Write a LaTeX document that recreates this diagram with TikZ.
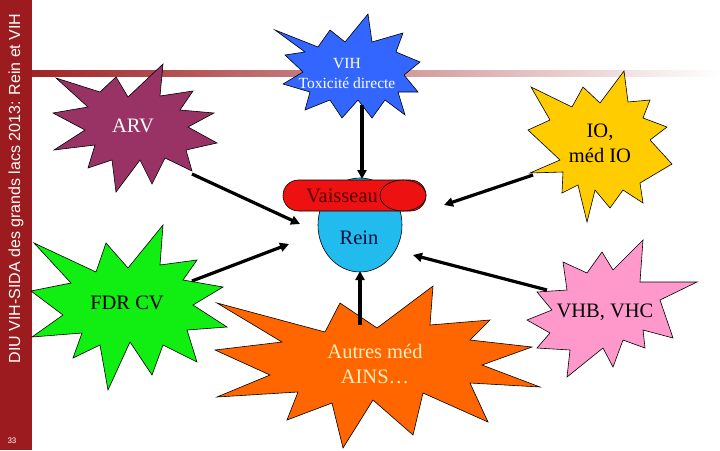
\documentclass[tikz,border=0pt]{standalone}
\usepackage{fontspec}
\setmainfont{Liberation Serif}
\newfontfamily\sidefont{Liberation Sans}
\usetikzlibrary{arrows.meta}
\definecolor{sidebarc}{HTML}{9B1B1E}
\definecolor{barL}{HTML}{9E2426}
\definecolor{barM}{HTML}{C9A5A5}
\definecolor{arvc}{HTML}{993366}
\definecolor{vihc}{HTML}{3366FF}
\definecolor{ioc}{HTML}{FFCC00}
\definecolor{fdrc}{HTML}{11EE11}
\definecolor{vhbc}{HTML}{FF99CC}
\definecolor{ainsc}{HTML}{FF6600}
\definecolor{reinc}{HTML}{22BBEE}
\definecolor{vaisc}{HTML}{EE1111}
\definecolor{vaistext}{HTML}{550000}
\definecolor{reintext}{HTML}{101040}
\definecolor{ainstext}{HTML}{FFEEBB}
\tikzset{
  burst/.style={draw=black, line width=0.6pt, line join=miter},
  conn/.style={draw=black, line width=3.2pt, -{Triangle[length=9pt,width=9pt]}},
  lbl/.style={align=center, inner sep=0pt, font=\fontsize{20.5}{25}\selectfont},
  smalllbl/.style={align=center, inner sep=0pt, font=\fontsize{15.5}{20}\selectfont},
}
\begin{document}
\begin{tikzpicture}[x=1pt,y=-1pt]
\useasboundingbox (0,0) rectangle (720,450);
\fill[white] (0,0) rectangle (720,450);
% top bar
\shade[left color=barL, middle color=barM, right color=white] (32,70) rectangle (720,76);
% sidebar
\fill[sidebarc] (0,0) rectangle (32,450);
\node[rotate=90, anchor=base, inner sep=0pt, text=white, font=\sidefont\fontsize{16}{18}\selectfont] (title) at (20,188.5) {DIU VIH-SIDA des grands lacs 2013: Rein et VIH};
\node[inner sep=0pt, text=white, font=\sidefont\fontsize{8}{9}\selectfont] (pagenum) at (12,441) {33};

% ARV star
\draw[burst, fill=arvc] (163,64) -- (160,96) -- (193,91) -- (180,110) -- (214,113) -- (188,127) -- (217,143) -- (186,150) -- (192,171) -- (165,158) -- (152,184) -- (140,160) -- (116,192) -- (112,160) -- (88,168) -- (95,145) -- (54,150) -- (85,130) -- (53,113) -- (88,107) -- (56,78) -- (100,92) -- (116,77) -- (128,97) -- cycle;
% VIH star
\draw[burst, fill=vihc] (275,30) -- (318,47) -- (330,30) -- (345,42) -- (368,14) -- (372,42) -- (403,33) -- (396,52) -- (420,62) -- (404,75) -- (418,92) -- (398,92) -- (405,115) -- (385,100) -- (372,118) -- (358,100) -- (342,118) -- (330,100) -- (305,110) -- (310,92) -- (283,84) -- (303,72) -- (285,55) -- (305,52) -- cycle;
% IO star
\draw[burst, fill=ioc] (624,71) -- (628,102) -- (650,100) -- (643,118) -- (667,127) -- (650,140) -- (672,164) -- (640,183) -- (643,203) -- (623,190) -- (610,208) -- (595,190) -- (587,222) -- (578,185) -- (562,193) -- (563,172) -- (530,173) -- (560,160) -- (528,130) -- (550,120) -- (531,87) -- (572,107) -- (583,87) -- (600,103) -- cycle;
% FDR star
\draw[burst, fill=fdrc] (163,225) -- (160,265) -- (197,260) -- (183,280) -- (223,287) -- (193,305) -- (227,327) -- (187,330) -- (197,362) -- (163,345) -- (152,375) -- (130,342) -- (108,390) -- (100,345) -- (73,358) -- (82,333) -- (32,337) -- (63,315) -- (31,291) -- (71,283) -- (34,243) -- (96,272) -- (106,243) -- (128,268) -- cycle;
% VHB star
\draw[burst, fill=vhbc] (643,240) -- (640,282) -- (697,282) -- (660,300) -- (673,338) -- (643,330) -- (645,348) -- (623,340) -- (613,367) -- (603,348) -- (567,377) -- (570,350) -- (537,348) -- (550,333) -- (527,320) -- (552,310) -- (537,292) -- (567,290) -- (563,262) -- (587,273) -- (602,252) -- (613,270) -- cycle;
% AINS star
\draw[burst, fill=ainsc] (217,303) -- (282,342) -- (215,350) -- (270,375) -- (217,397) -- (298,392) -- (287,420) -- (332,403) -- (343,448) -- (373,400) -- (413,435) -- (423,393) -- (488,422) -- (470,383) -- (540,387) -- (482,365) -- (532,347) -- (470,340) -- (490,320) -- (430,325) -- (433,286) -- (377,328) -- (340,303) -- (325,332) -- cycle;

% Rein and Vaisseau
\draw[fill=reinc, line width=0.6pt] (360,225) ellipse [x radius=42, y radius=47];
\draw[fill=vaisc, line width=0.6pt, rounded corners=15.5pt] (283,180) rectangle (426,211);
\draw[fill=vaisc, line width=0.6pt] (403,195.5) ellipse [x radius=23, y radius=15.5];

% labels
\node[lbl, text=white] (arv) at (133,126) {ARV};
\node[smalllbl, text=white] (vih) at (347,73) {VIH\\Toxicité directe};
\node[lbl, text=black] (io) at (600,143) {IO,\\méd IO};
\node[lbl, text=black] (fdr) at (127,303) {FDR CV};
\node[lbl, text=black] (vhb) at (605,312) {VHB, VHC};
\node[lbl, text=ainstext] (ains) at (375,364) {Autres méd\\AINS…};
\node[lbl, text=reintext] (rein) at (359,238) {Rein};
\node[lbl, text=vaistext] (vais) at (342,196) {Vaisseau};

% connector endpoints
\coordinate (vihOut) at (362,105);
\coordinate (vihIn) at (362,179);
\coordinate (arvOut) at (192,174);
\coordinate (arvIn) at (300,224);
\coordinate (ioOut) at (533,175);
\coordinate (ioIn) at (444,205);
\coordinate (fdrOut) at (192,281);
\coordinate (fdrIn) at (289,244);
\coordinate (vhbOut) at (547,290);
\coordinate (vhbIn) at (413,255);
\coordinate (ainsOut) at (360,325);
\coordinate (ainsIn) at (360,271);

\draw[conn] (vihOut) -- (vihIn);
\draw[conn] (arvOut) -- (arvIn);
\draw[conn] (ioOut) -- (ioIn);
\draw[conn] (fdrOut) -- (fdrIn);
\draw[conn] (vhbOut) -- (vhbIn);
\draw[conn] (ainsOut) -- (ainsIn);
\end{tikzpicture}
\end{document}
